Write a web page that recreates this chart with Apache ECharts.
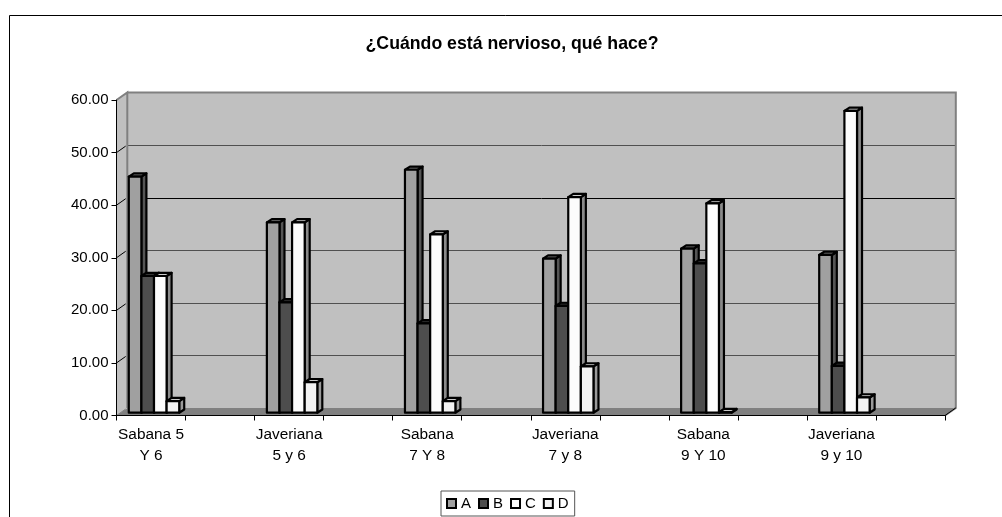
<!DOCTYPE html>
<html>
<head>
<meta charset="utf-8">
<style>html,body{margin:0;padding:0;background:#fff}#c{width:1002px;height:517px}</style>
<script src="https://cdn.jsdelivr.net/npm/echarts@6/dist/echarts.min.js"></script>
</head>
<body>
<div id="c"></div>
<script>
// Survey results per school and grade; every second axis slot is an empty spacer.
const categories = ['Sabana 5\nY 6', '', 'Javeriana\n5 y 6', '', 'Sabana\n7 Y 8', '', 'Javeriana\n7 y 8', '', 'Sabana\n9 Y 10', '', 'Javeriana\n9 y 10', ''];
const seriesA = [44.9, 36.2, 46.2, 29.3, 31.2, 30.0];
const seriesB = [26.0, 21.0, 17.0, 20.3, 28.4, 8.9];
const seriesC = [26.0, 36.2, 33.9, 41.0, 39.8, 57.4];
const seriesD = [2.2, 5.8, 2.2, 8.8, 0.1, 2.9];
const yTicks = [0, 10, 20, 30, 40, 50, 60];

// Pseudo-3D box geometry, in pixels.
const WALL_DX = 10.8, WALL_DY = 7.6;
const BAR_LIFT = 2.8, BOX_DX = 5, BOX_DY = 3.2;
const BAR_WIDTH_RATIO = 0.1826, BAR_START_RATIO = -0.322;

function renderWall(params, api) {
  const cs = params.coordSys;
  const left = cs.x, right = cs.x + cs.width;
  const y0 = api.coord([0, 0])[1], y60 = api.coord([0, 60])[1];
  const kids = [];
  // side wall
  kids.push({ type: 'polygon', shape: { points: [[left, y0], [left + WALL_DX, y0 - WALL_DY], [left + WALL_DX, y60 - WALL_DY], [left, y60]] },
    style: { fill: '#c0c0c0', stroke: null } });
  // back wall
  kids.push({ type: 'rect', shape: { x: left + WALL_DX, y: y60 - WALL_DY, width: right - left, height: y0 - y60 },
    style: { fill: '#c0c0c0', stroke: null } });
  // floor
  kids.push({ type: 'polygon', shape: { points: [[left, y0], [left + WALL_DX, y0 - WALL_DY], [right + WALL_DX, y0 - WALL_DY], [right, y0]] },
    style: { fill: '#808080', stroke: null } });
  // gridlines on the back wall and their short diagonals on the side wall
  yTicks.forEach(function (v) {
    const y = api.coord([0, v])[1];
    if (v > 0 && v < 60) {
      kids.push({ type: 'line', shape: { x1: left + WALL_DX, y1: Math.round(y - WALL_DY) + 0.5, x2: right + WALL_DX, y2: Math.round(y - WALL_DY) + 0.5 },
        style: { stroke: v === 40 ? '#000' : '#505050', lineWidth: 1 } });
    }
    if (v < 60) {
      kids.push({ type: 'line', shape: { x1: left, y1: y, x2: left + WALL_DX * 0.85, y2: y - WALL_DY * 0.85 },
        style: { stroke: v === 0 ? '#808080' : '#000', lineWidth: 1 } });
    }
  });
  // wall outline
  kids.push({ type: 'polyline', shape: { points: [[left, y60], [left + WALL_DX, y60 - WALL_DY], [left + WALL_DX, y0 - WALL_DY]] },
    style: { fill: null, stroke: '#808080', lineWidth: 2 } });
  kids.push({ type: 'polyline', shape: { points: [[left + WALL_DX, y60 - WALL_DY], [right + WALL_DX, y60 - WALL_DY], [right + WALL_DX, y0 - WALL_DY], [right, y0]] },
    style: { fill: null, stroke: '#808080', lineWidth: 2 } });
  kids.push({ type: 'line', shape: { x1: right, y1: y0, x2: right + WALL_DX, y2: y0 - WALL_DY },
    style: { stroke: '#000', lineWidth: 1 } });
  return { type: 'group', children: kids };
}

function barRenderer(slot, sideFill, topFill) {
  return function (params, api) {
    const cat = api.value(0), val = api.value(1);
    const band = api.size([1, 0])[0];
    const w = band * BAR_WIDTH_RATIO;
    const x = api.coord([cat, 0])[0] + band * (BAR_START_RATIO + slot * BAR_WIDTH_RATIO);
    const yb = api.coord([cat, 0])[1] - BAR_LIFT;
    const yt = api.coord([cat, val])[1] - BAR_LIFT;
    const edge = { stroke: '#000', lineWidth: 2.2, lineJoin: 'round' };
    const front = api.visual('color');
    return { type: 'group', children: [
      { type: 'polygon', shape: { points: [[x + w, yb], [x + w + BOX_DX, yb - BOX_DY], [x + w + BOX_DX, yt - BOX_DY], [x + w, yt]] },
        style: Object.assign({ fill: sideFill }, edge) },
      { type: 'polygon', shape: { points: [[x, yt], [x + BOX_DX, yt - BOX_DY], [x + w + BOX_DX, yt - BOX_DY], [x + w, yt]] },
        style: Object.assign({ fill: topFill }, edge) },
      { type: 'rect', shape: { x: x, y: yt, width: w, height: yb - yt },
        style: Object.assign({ fill: front }, edge) }
    ] };
  };
}

function barSeries(name, values, slot, front, side, top) {
  return {
    type: 'custom', name: name, z: 3, silent: true,
    itemStyle: { color: front, borderColor: '#000', borderWidth: 2 },
    encode: { x: 0, y: 1 },
    renderItem: barRenderer(slot, side, top),
    data: values.map(function (v, i) { return [i * 2, v]; })
  };
}

const chart = echarts.init(document.getElementById('c'), null, { renderer: 'canvas' });
const FONT = '"Liberation Sans", Arial, sans-serif';
chart.setOption({
  animation: false,
  textStyle: { fontFamily: FONT, color: '#000' },
  title: {
    text: '¿Cuándo está nervioso, qué hace?', left: 507, top: 30, textAlign: 'center',
    textStyle: { fontFamily: FONT, fontSize: 17.7, fontWeight: 'bold', color: '#000' }
  },
  legend: {
    data: ['A', 'B', 'C', 'D'], left: 441, top: 491, orient: 'horizontal',
    padding: [5, 6, 5, 5], itemWidth: 9, itemHeight: 9, itemGap: 7, icon: 'rect',
    borderColor: '#555', borderWidth: 1, selectedMode: false,
    textStyle: { fontFamily: FONT, fontSize: 15, color: '#000', padding: [0, 0, 0, 0] }
  },
  grid: { left: 116.5, top: 100, width: 828.5, height: 315.5, containLabel: false },
  xAxis: {
    type: 'category', data: categories, z: 6,
    boundaryGap: true,
    axisLine: { lineStyle: { color: '#000', width: 1 } },
    axisTick: { show: true, length: 5, alignWithLabel: false, interval: 0, lineStyle: { color: '#000', width: 1 } },
    axisLabel: { interval: 0, color: '#000', fontFamily: FONT, fontSize: 15.4, lineHeight: 21, margin: 9, hideOverlap: false, width: 120, overflow: 'none' },
    splitLine: { show: false }
  },
  yAxis: {
    type: 'value', min: 0, max: 60, interval: 10, z: 6,
    axisLine: { show: true, lineStyle: { color: '#000', width: 1 } },
    axisTick: { show: true, length: 5, lineStyle: { color: '#000', width: 1 } },
    axisLabel: { color: '#000', fontFamily: FONT, fontSize: 15, margin: 8, formatter: function (v) { return v.toFixed(2); } },
    splitLine: { show: false }
  },
  series: [
    { type: 'custom', name: 'wall', z: 1, silent: true, renderItem: renderWall, data: [[0, 0]], encode: { x: 0, y: 1 } },
    barSeries('A', seriesA, 0, '#a0a0a0', '#555555', '#777777'),
    barSeries('B', seriesB, 1, '#4d4d4d', '#222222', '#333333'),
    barSeries('C', seriesC, 2, '#fcfcfc', '#8a8a8a', '#cccccc'),
    barSeries('D', seriesD, 3, '#f2f2f2', '#9a9a9a', '#c8c8c8')
  ],
  graphic: [
    // chart-area frame
    { type: 'polyline', silent: true, z: 10, shape: { points: [[9.5, 517], [9.5, 15.5], [1002, 15.5]] }, style: { fill: null, stroke: '#000', lineWidth: 1 } }
  ]
});
</script>
</body>
</html>
